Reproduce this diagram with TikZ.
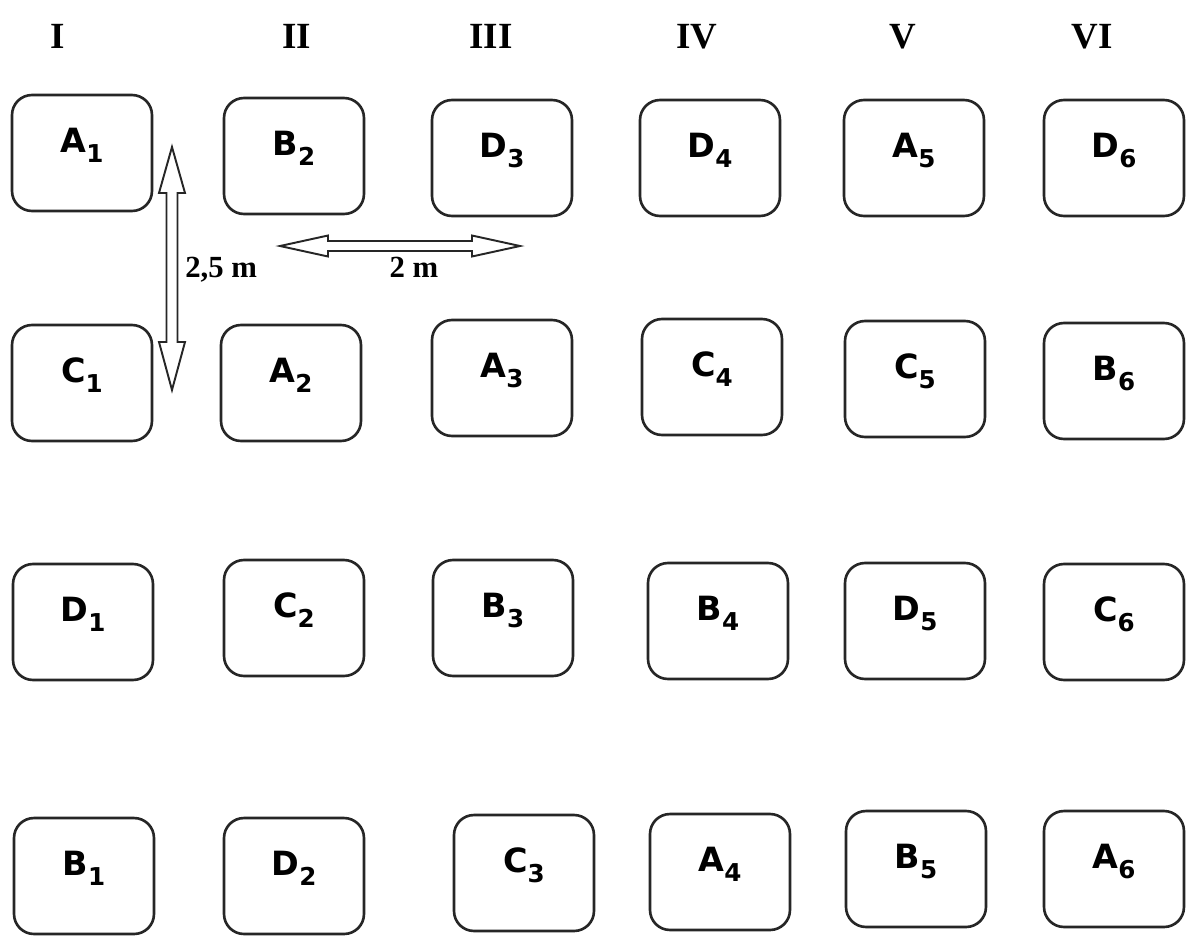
\documentclass[tikz,border=0pt]{standalone}
\usepackage{fontspec}
\setmainfont{Liberation Serif}
\newfontfamily\plotfont{DejaVu Sans}
\usepackage{xcolor}
\usepackage{tikz}
\newcommand{\plotsub}[1]{\raisebox{-0.2cm}{\fontsize{14}{14}\selectfont #1}}
\tikzset{
  plot/.style={
    draw=black!85,
    line width=1.5pt,
    rounded corners=0.4cm,
    minimum width=2.8cm,
    minimum height=2.32cm,
    inner sep=0pt,
    text height=0.5cm,
    text depth=0.52cm,
    font=\plotfont\bfseries\fontsize{19}{22}\selectfont
  },
  repnum/.style={
    anchor=base,
    font=\bfseries\fontsize{21}{24}\selectfont
  },
  dimlabel/.style={
    inner sep=0pt,
    font=\bfseries\fontsize{17.5}{20}\selectfont
  },
  dimarrow/.style={
    draw=black!85,
    line width=1.1pt,
    line join=miter
  }
}

\begin{document}
\begin{tikzpicture}[x=0.02cm, y=-0.02cm]
    \useasboundingbox (0,0) rectangle (1187,937);
    % replicate headers
    \foreach \c/\px/\r in {1/58/I,2/297/II,3/491/III,4/697/IV,5/903/V,6/1092/VI}
      \node[repnum] (rep\c) at (\px,48) {\r};
    % plots
    \foreach \nm/\px/\py/\lt/\sb in {
        a1/82/153/A/1, b2/294/156/B/2, d3/502/158/D/3,
        d4/710/158/D/4, a5/914/158/A/5, d6/1114/158/D/6,
        c1/82/383/C/1, a2/291/383/A/2, a3/502/378/A/3,
        c4/712/377/C/4, c5/915/379/C/5, b6/1114/381/B/6,
        d1/83/622/D/1, c2/294/618/C/2, b3/503/618/B/3,
        b4/718/621/B/4, d5/915/621/D/5, c6/1114/622/C/6,
        b1/84/876/B/1, d2/294/876/D/2, c3/524/873/C/3,
        a4/720/872/A/4, b5/916/869/B/5, a6/1114/869/A/6}
      \node[plot] (\nm) at (\px,\py) {\lt\plotsub{\sb}};
    % spacing arrows
    \coordinate (vtop) at (172,147);
    \coordinate (hleft) at (280,246);
    \draw[dimarrow] (vtop) -- ++(13,46) -- ++(-7.5,0) -- ++(0,149) -- ++(7.5,0)
      -- ++(-13,48) -- ++(-13,-48) -- ++(7.5,0) -- ++(0,-149) -- ++(-7.5,0) -- cycle;
    \draw[dimarrow] (hleft) -- ++(48,-10.5) -- ++(0,5.5) -- ++(144,0) -- ++(0,-5.5)
      -- ++(48,10.5) -- ++(-48,10.5) -- ++(0,-5.5) -- ++(-144,0) -- ++(0,5.5) -- cycle;
    \node[dimlabel, anchor=base west] (vlabel) at (185,277) {2,5 m};
    \node[dimlabel, anchor=base] (hlabel) at (414,277) {2 m};
\end{tikzpicture}
\end{document}
